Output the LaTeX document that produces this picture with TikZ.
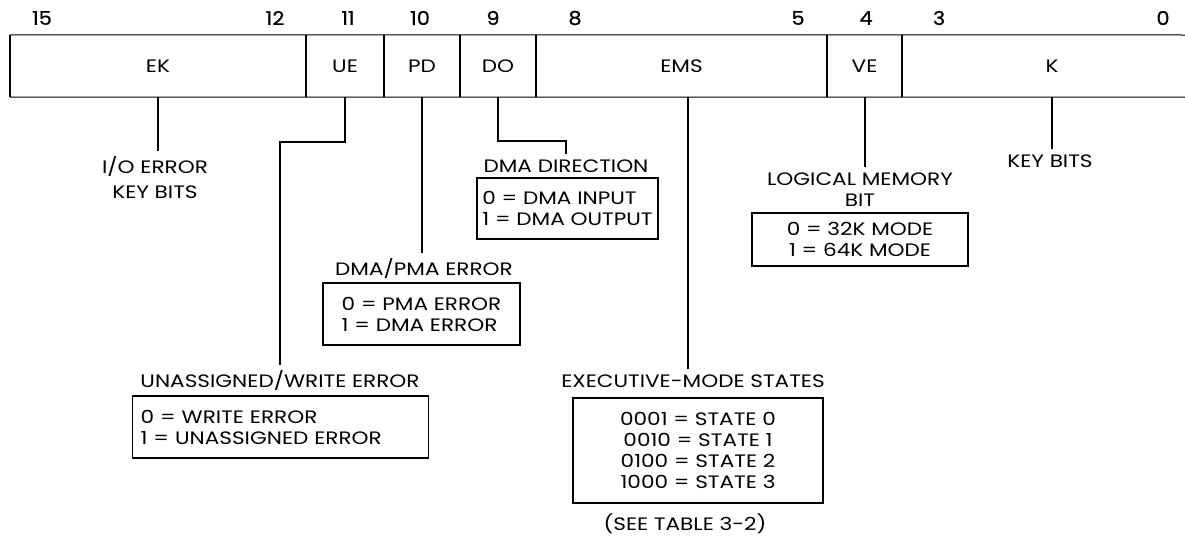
\documentclass[tikz,border=0pt]{standalone}
\usepackage{fontspec}
\setmainfont{Poppins}[FakeStretch=1.2]
\newfontfamily\bitfam{Poppins}[FakeStretch=1.1, FakeBold=0.6]
\newcommand{\dgfont}{\fontsize{18}{21}\selectfont}
\newcommand{\dgbit}{\bitfam\fontsize{19}{21}\selectfont}
\tikzset{
  reg/.style={line width=1pt},
  div/.style={line width=1.8pt},
  field/.style={inner sep=0pt, minimum height=62pt, font=\dgfont},
  bitno/.style={inner sep=0pt, font=\dgbit},
  title/.style={inner sep=0pt, outer sep=6pt, align=center, font=\dgfont},
  valbox/.style={draw, line width=1.2pt, inner ysep=0pt, font=\dgfont},
  lead/.style={line width=2pt},
}
\begin{document}
\begin{tikzpicture}[x=1pt,y=-1pt]
\useasboundingbox (0,0) rectangle (1185,538);
% register fields
\node[field, minimum width=296pt] (ek)  at (158,66)   {EK};
\node[field, minimum width=78pt]  (ue)  at (345,66)   {UE};
\node[field, minimum width=76pt]  (pd)  at (422,66)   {PD};
\node[field, minimum width=76pt]  (do)  at (498,66)   {DO};
\node[field, minimum width=291pt] (ems) at (681.5,66) {EMS};
\node[field, minimum width=75pt]  (ve)  at (864.5,66) {VE};
\node[field, minimum width=300pt] (k)   at (1052,66)  {K};
% register frame
\draw[reg] (ek.north west) -- (1185,35);
\draw[reg] (ek.south west) -- (1185,97);
\draw[div] (ek.north west) -- (ek.south west);
\foreach \f in {ek,ue,pd,do,ems,ve}
  \draw[div] (\f.north east) -- (\f.south east);
% bit numbers
\node[bitno] (b15) at (42,18)   {15};
\node[bitno] (b12) at (275,18)  {12};
\node[bitno] (b11) at (348,18)  {11};
\node[bitno] (b10) at (420,18)  {10};
\node[bitno] (b9)  at (493,18)  {9};
\node[bitno] (b8)  at (575,18)  {8};
\node[bitno] (b5)  at (798,18)  {5};
\node[bitno] (b4)  at (866,18)  {4};
\node[bitno] (b3)  at (939,18)  {3};
\node[bitno] (b0)  at (1163,18) {0};
% descriptions
\node[title] (io)  at (155,178) {I/O ERROR\\[4pt]KEY BITS};
\node[title] (uwt) at (280,381) {UNASSIGNED/WRITE ERROR};
\node[valbox, minimum width=295pt, minimum height=62pt, text width=280pt, inner xsep=8pt, align=left]
  (uwb) at (280.5,427) {0 = WRITE ERROR\\1 = UNASSIGNED ERROR};
\node[title] (dpt) at (424,269) {DMA/PMA ERROR};
\node[valbox, minimum width=197pt, minimum height=62pt, align=left]
  (dpb) at (421.5,314) {0 = PMA ERROR\\1 = DMA ERROR};
\node[title] (ddt) at (566,166) {DMA DIRECTION};
\node[valbox, minimum width=181pt, minimum height=61pt, inner xsep=3pt, align=left]
  (ddb) at (567.5,208.5) {\fontsize{18}{20}\selectfont 0 = DMA INPUT\\1 = DMA OUTPUT};
\node[title] (emt) at (693,381) {EXECUTIVE-MODE STATES};
\node[valbox, minimum width=250pt, minimum height=105pt, align=center]
  (emb) at (698,450.5) {0001 = STATE 0\\0010 = STATE 1\\0100 = STATE 2\\1000 = STATE 3};
\node[title] (see) at (685,524) {(SEE TABLE 3-2)};
\node[title] (lmt) at (860,190) {LOGICAL MEMORY\\BIT};
\node[valbox, minimum width=216pt, minimum height=53pt, align=center]
  (lmb) at (860,239.5) {\fontsize{18}{19}\selectfont 0 = 32K MODE\\1 = 64K MODE};
\node[title] (kb)  at (1050,161) {KEY BITS};
% leaders
\draw[lead] (ek.south) -- (ek.south |- io.north);
\draw[lead] (ue.south) -- ++(0,45) -| (uwt.north);
\draw[lead] (pd.south) -- (pd.south |- dpt.north);
\draw[lead] (do.south) -- ++(0,44) -| (ddt.north);
\draw[lead] ([xshift=6pt]ems.south) -- ([xshift=6pt]ems.south |- emt.north);
\draw[lead] (ve.south) -- (ve.south |- lmt.north);
\draw[lead] (k.south) -- (k.south |- kb.north);
\end{tikzpicture}
\end{document}
